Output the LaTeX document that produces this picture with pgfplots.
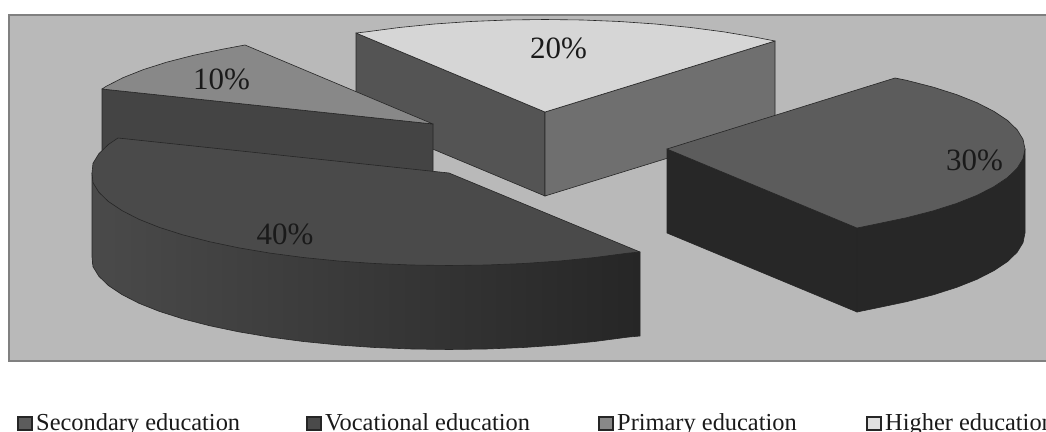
\documentclass[border=0pt]{standalone}
\usepackage{pgfplots}
\pgfplotsset{compat=1.18}
\usepackage{fontspec}
\setmainfont{Liberation Serif}
\definecolor{bgc}{HTML}{B9B9B9}
\definecolor{framec}{HTML}{808080}
\definecolor{edgec}{HTML}{262626}
\definecolor{txtc}{HTML}{1A1A1A}
\definecolor{topsec}{HTML}{5C5C5C}
\definecolor{sidesec}{HTML}{272727}
\definecolor{topvoc}{HTML}{4A4A4A}
\definecolor{sidevocl}{HTML}{4A4A4A}
\definecolor{sidevocr}{HTML}{262626}
\definecolor{topprim}{HTML}{888888}
\definecolor{sideprim}{HTML}{444444}
\definecolor{tophigh}{HTML}{D6D6D6}
\definecolor{sidehighl}{HTML}{545454}
\definecolor{sidehighr}{HTML}{6F6F6F}
\newcommand{\lab}[1]{\fontsize{31bp}{31bp}\selectfont #1}
\newcommand{\leg}[1]{\fontsize{24.4bp}{24.4bp}\selectfont #1}
\begin{document}
\begin{tikzpicture}
\path[use as bounding box] (0,0) rectangle (1046bp,432bp);
\clip (0,0) rectangle (1046bp,432bp);
\begin{axis}[
  at={(0,0)}, anchor=south west,
  width=1046bp, height=432bp, scale only axis,
  xmin=0, xmax=1046, ymin=0, ymax=432, y dir=reverse,
  hide axis, clip=true,
]
% panel
\addplot[fill=bgc, draw=framec, line width=2bp] coordinates {(9,15) (1060,15) (1060,361) (9,361)} --cycle;

% Higher education (20%)
\addplot[fill=sidehighl, draw=edgec, line width=.6bp] coordinates {(356,33) (545,112) (545,196) (356,117)} --cycle;
\addplot[fill=sidehighr, draw=edgec, line width=.6bp] coordinates {(545,112) (775,41) (775,125) (545,196)} --cycle;
\addplot[fill=tophigh, draw=edgec, line width=.6bp, line join=round] coordinates {
 (356,33) (366,31.9) (399.4,27.5) (434.4,24) (470.6,21.5) (507.6,20) (545,19.5) (582.4,20) (619.4,21.5)
 (655.4,24) (690.6,27.5) (724,31.9) (755.4,37.2) (775,41) (545,112)} --cycle;

% Primary education (10%)
\addplot[fill=sideprim, draw=edgec, line width=.6bp] coordinates {(102,89) (433,124) (433,173) (102,173)} --cycle;
\addplot[fill=topprim, draw=edgec, line width=.6bp, line join=round] coordinates {
 (102,89) (106,86.4) (123,77.7) (143.4,69.6) (167,62.1) (193.5,55.3) (222.6,49.2) (245,45) (433,124)} --cycle;

% Secondary education (30%)
\addplot[fill=sidesec, draw=edgec, line width=.6bp] coordinates {(667,149) (857,228) (857,312) (667,233)} --cycle;
\addplot[fill=sidesec, draw=edgec, line width=.6bp, line join=round] coordinates {
 (1025,149) (1025,233) (1023,242.7) (1017.2,252.2) (1007.5,261.6) (994,270.6) (977,279.3) (956.6,287.4)
 (933,294.9) (906.5,301.7) (877.4,307.8) (857,312) (857,228)} --cycle;
\addplot[fill=topsec, draw=edgec, line width=.6bp, line join=round] coordinates {
 (667,149) (895,78) (906.5,80.3) (933,87.1) (956.6,94.6) (977,102.7) (994,111.4) (1007.5,120.4) (1017.2,129.8)
 (1023,139.3) (1025,149) (1023,158.7) (1017.2,168.2) (1007.5,177.6) (994,186.6) (977,195.3) (956.6,203.4)
 (933,210.9) (906.5,217.7) (877.4,223.8) (857,228)} --cycle;

% Vocational education (40%)
\addplot[left color=sidevocl, right color=sidevocr, draw=edgec, line width=.6bp, line join=round] coordinates {
 (640,252) (640,336) (628,337.1) (594.6,341.5) (559.6,345) (523.4,347.5) (486.4,349) (449,349.5) (411.6,349)
 (374.6,347.5) (338.4,345) (303.4,341.5) (270,337.1) (238.6,331.8) (209.5,325.7) (183,318.9) (159.4,311.4)
 (139,303.3) (122,294.6) (108.5,285.6) (98.8,276.2) (93,266.7) (92,257) (92,173)} --cycle;
\addplot[fill=topvoc, draw=edgec, line width=.6bp, line join=round] coordinates {
 (118,138) (108.5,144.4) (98.8,153.8) (93,163.3) (92,173) (93,182.7) (98.8,192.2) (108.5,201.6) (122,210.6)
 (139,219.3) (159.4,227.4) (183,234.9) (209.5,241.7) (238.6,247.8) (270,253.1) (303.4,257.5) (338.4,261)
 (374.6,263.5) (411.6,265) (449,265.5) (486.4,265) (523.4,263.5) (559.6,261) (594.6,257.5) (628,253.1)
 (640,252) (449,173)} --cycle;

% legend keys
\addplot[only marks, mark=square*, mark size=6.6bp, mark options={fill=topsec, draw=edgec, line width=2bp}] coordinates {(25,423.7)};
\addplot[only marks, mark=square*, mark size=6.6bp, mark options={fill=topvoc, draw=edgec, line width=2bp}] coordinates {(314,423.7)};
\addplot[only marks, mark=square*, mark size=6.6bp, mark options={fill=topprim, draw=edgec, line width=2bp}] coordinates {(606,423.7)};
\addplot[only marks, mark=square*, mark size=6.6bp, mark options={fill=white!88!black, draw=edgec, line width=2bp}] coordinates {(874,423.7)};

% labels
\node[anchor=base, inner sep=0pt, text=txtc] at (221.5,90) {\lab{10\%}};
\node[anchor=base, inner sep=0pt, text=txtc] at (558.5,59) {\lab{20\%}};
\node[anchor=base, inner sep=0pt, text=txtc] at (974.5,170) {\lab{30\%}};
\node[anchor=base, inner sep=0pt, text=txtc] at (285,244) {\lab{40\%}};

% legend text
\node[anchor=base west, inner sep=0pt, text=txtc] at (36,430) {\leg{Secondary education}};
\node[anchor=base west, inner sep=0pt, text=txtc] at (325,430) {\leg{Vocational education}};
\node[anchor=base west, inner sep=0pt, text=txtc] at (617,430) {\leg{Primary education}};
\node[anchor=base west, inner sep=0pt, text=txtc] at (885,430) {\leg{Higher education}};
\end{axis}
\end{tikzpicture}
\end{document}
